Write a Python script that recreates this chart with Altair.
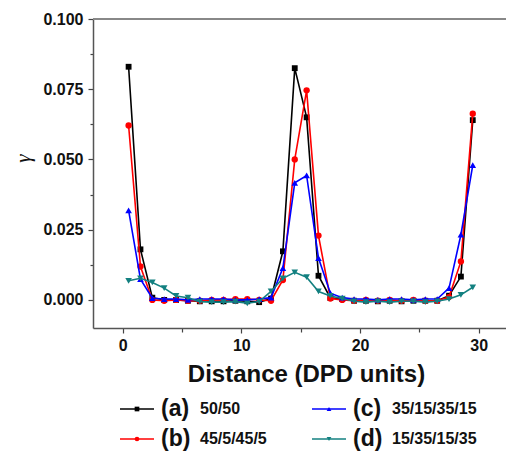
import altair as alt
import pandas as pd

# ---- data ----
distance = [0.5 + i for i in range(30)]

series_a = [0.0830, 0.0180, 0.0008, 0.0000, 0.0000, -0.0003, -0.0005, -0.0005, -0.0005, -0.0003,
            -0.0005, -0.0008, 0.0005, 0.0173, 0.0825, 0.0650, 0.0086, 0.0007, 0.0003, -0.0003,
            -0.0003, -0.0005, -0.0003, -0.0005, -0.0003, -0.0003, -0.0003, 0.0015, 0.0083, 0.0640]
series_b = [0.0621, 0.0119, 0.0000, -0.0003, 0.0000, -0.0003, -0.0003, 0.0000, 0.0000, 0.0003,
            0.0003, 0.0000, -0.0003, 0.0071, 0.0500, 0.0746, 0.0229, 0.0005, 0.0000, -0.0003,
            0.0000, -0.0003, 0.0000, -0.0003, 0.0000, -0.0003, -0.0003, 0.0010, 0.0137, 0.0663]
series_c = [0.0319, 0.0074, 0.0006, 0.0003, 0.0003, 0.0000, 0.0003, 0.0003, 0.0003, 0.0000,
            0.0000, 0.0003, 0.0008, 0.0113, 0.0417, 0.0443, 0.0149, 0.0024, 0.0008, 0.0003,
            0.0003, 0.0000, 0.0003, 0.0003, 0.0000, 0.0003, 0.0003, 0.0042, 0.0232, 0.0480]
series_d = [0.0068, 0.0077, 0.0062, 0.0042, 0.0014, 0.0008, -0.0006, -0.0008, -0.0008, -0.0006,
            -0.0012, -0.0006, 0.0030, 0.0077, 0.0098, 0.0081, 0.0030, 0.0014, 0.0005, -0.0005,
            -0.0008, -0.0005, -0.0008, -0.0005, -0.0005, -0.0008, -0.0005, 0.0003, 0.0018, 0.0045]

legend_codes = ["(a)", "(b)", "(c)", "(d)"]
legend_labels = ["50/50", "45/5/45/5", "35/15/35/15", "15/35/15/35"]
all_series = [series_a, series_b, series_c, series_d]

colors = ["#000000", "#ff0000", "#0000ff", "#138080"]
shapes = ["square", "circle", "triangle-up", "triangle-down"]
sizes = [34, 40, 44, 44]

x_ticks = [0, 5, 10, 15, 20, 25, 30]
y_ticks = [0.0, 0.0125, 0.025, 0.0375, 0.05, 0.0625, 0.075, 0.0875, 0.1]

# ---- layout (pixels) ----
LEFT, TOP, W, H = 93, 19, 413, 309
FONT = "Liberation Sans"

xscale = alt.Scale(domain=[-2.5, 32.3], nice=False, zero=False)
yscale = alt.Scale(domain=[-0.01, 0.1], nice=False, zero=False)

xaxis = alt.Axis(values=x_ticks, labelExpr="datum.value % 10 == 0 ? datum.label : ''",
                 format="d", grid=False,
                 tickSize={"condition": {"test": "datum.value % 10 == 0", "value": 5}, "value": 4},
                 tickColor="#444", domainColor="#555",
                 domainWidth=1.5, tickWidth=1.2, labelFont=FONT, labelFontWeight="bold",
                 labelFontSize=16, labelColor="#111", labelPadding=4,
                 title="Distance (DPD units)", titleFont=FONT, titleFontWeight="bold",
                 titleFontSize=24, titleColor="#111", titleX=213, titleY=53,
                 titleBaseline="alphabetic")
yaxis = alt.Axis(values=y_ticks,
                 labelExpr="abs(round(datum.value*10000) % 250) < 1 ? format(datum.value, '.3f') : ''",
                 grid=False,
                 tickSize={"condition": {"test": "abs(round(datum.value*10000) % 250) < 1", "value": 5}, "value": 3},
                 tickColor="#444", domainColor="#555",
                 domainWidth=1.5, tickWidth=1.2, labelFont=FONT, labelFontWeight="bold",
                 labelFontSize=16, labelColor="#111", labelPadding=5,
                 title="γ", titleFont="Liberation Serif", titleFontStyle="italic",
                 titleFontWeight="normal", titleFontSize=21, titleColor="#111",
                 titleAngle=-90, titleX=-70, titleY=139, titleAlign="center",
                 titleBaseline="middle")

layers = []
for i, vals in enumerate(all_series):
    df = pd.DataFrame({"x": distance, "y": vals})
    base = alt.Chart(df).encode(
        x=alt.X("x:Q", scale=xscale, axis=xaxis),
        y=alt.Y("y:Q", scale=yscale, axis=yaxis),
    )
    line = base.mark_line(color=colors[i], strokeWidth=1.6)
    pts = base.mark_point(filled=True, shape=shapes[i], size=sizes[i], color=colors[i],
                          opacity=1)
    layers += [line, pts]

one = pd.DataFrame({"k": [0]})

# top frame line
layers.append(alt.Chart(one).mark_rule(color="#888", strokeWidth=2).encode(
    x=alt.value(0), x2=alt.value(W), y=alt.value(0)))

# custom legend (line + marker + code + label)
leg_pos = [(120, 409), (120, 439), (312, 409), (312, 439)]
for i in range(4):
    lx, ly = leg_pos[i]
    lx -= LEFT
    ly -= TOP
    layers.append(alt.Chart(one).mark_rule(color=colors[i], strokeWidth=1.6).encode(
        x=alt.value(lx), x2=alt.value(lx + 34), y=alt.value(ly)))
    layers.append(alt.Chart(one).mark_point(filled=True, shape=shapes[i], size=22,
                                            color=colors[i], opacity=1).encode(
        x=alt.value(lx + 17), y=alt.value(ly)))
    layers.append(alt.Chart(one).mark_text(text=legend_codes[i], font=FONT, fontWeight="bold",
                                           fontSize=23, align="left", baseline="middle",
                                           color="#111").encode(
        x=alt.value(lx + 41), y=alt.value(ly)))
    layers.append(alt.Chart(one).mark_text(text=legend_labels[i], font=FONT, fontWeight="bold",
                                           fontSize=16, align="left", baseline="middle",
                                           color="#111").encode(
        x=alt.value(lx + 80), y=alt.value(ly)))

chart = alt.layer(*layers).properties(
    width=W, height=H,
    autosize=alt.AutoSizeParams(type="none"),
    padding={"left": LEFT, "top": TOP, "right": 0, "bottom": 452 - TOP - H},
    background="white",
).configure_view(stroke=None)

chart.save("out.html", embed_options={"renderer": "svg", "actions": False})
